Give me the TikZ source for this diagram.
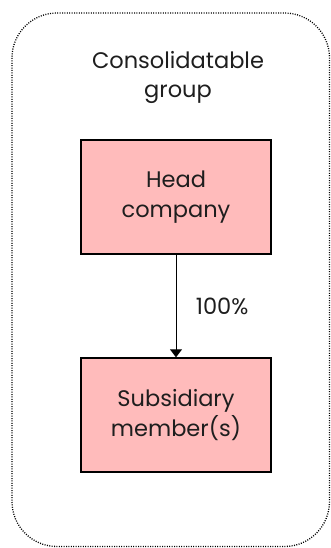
\documentclass[tikz,border=0pt]{standalone}
\usepackage{fontspec}
\setmainfont{Poppins}
\usetikzlibrary{arrows.meta}
\definecolor{boxpink}{RGB}{255,187,187}
\definecolor{ink}{RGB}{30,30,30}
\tikzset{
  entity/.style={draw=black, line width=1.4pt, fill=boxpink, minimum width=190pt, minimum height=114pt, align=center, font=\fontsize{22.5}{30}\selectfont, text=ink},
  group/.style={draw=black, line width=1.3pt, dash pattern=on 1pt off 1.4pt, rounded corners=45pt},
  link/.style={line width=1pt, -{Triangle[length=8pt,width=12pt]}}
}
\begin{document}
\begin{tikzpicture}[x=1pt,y=-1pt]
\useasboundingbox (0,0) rectangle (331,548);
\draw[group] (12,13) rectangle (329.5,546.5);
\node[align=center, font=\fontsize{22.5}{29}\selectfont, text=ink] (title) at (178,77) {Consolidatable\\group};
\node[entity] (head) at (176,197) {Head\\company};
\node[entity] (sub) at (176,415) {Subsidiary\\member(s)};
\draw[link] (head) -- (sub) node[midway, right=16pt, font=\fontsize{22.5}{26}\selectfont, text=ink] (pct) {100\%};
\end{tikzpicture}
\end{document}
